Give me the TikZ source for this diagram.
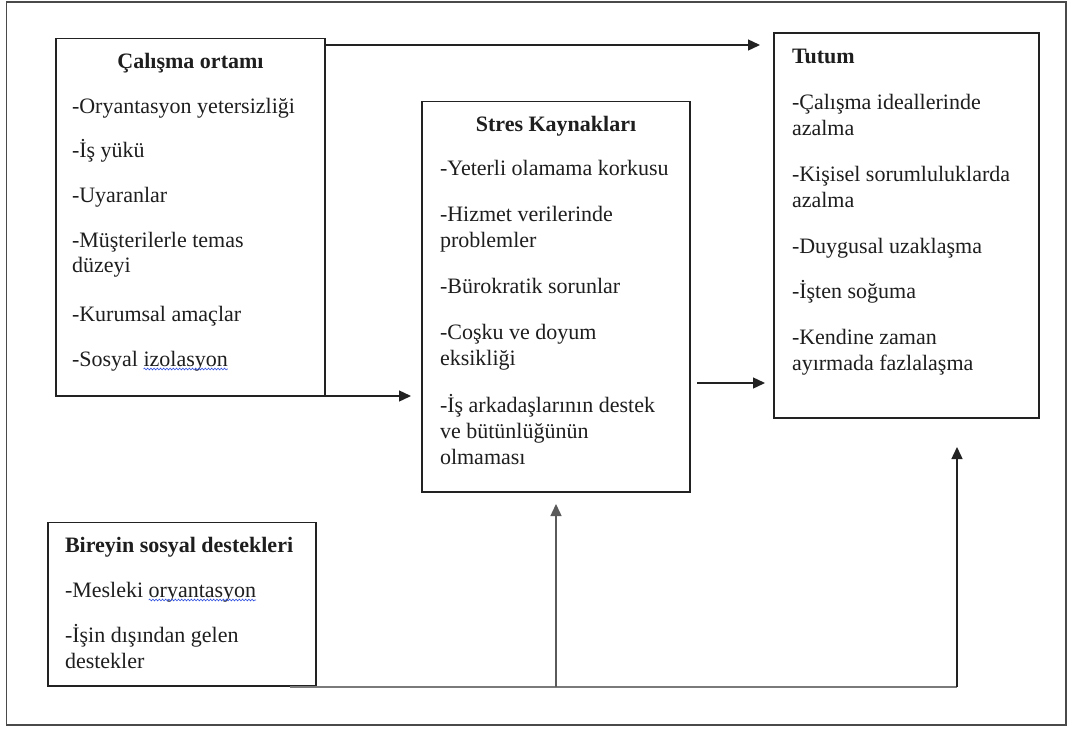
\documentclass[tikz,border=0pt]{standalone}
\usepackage{fontspec}
\setmainfont{Liberation Serif}
\usetikzlibrary{arrows.meta,decorations.pathmorphing,calc}
\definecolor{textc}{HTML}{1E1E1E}
\definecolor{linec}{HTML}{222222}
\definecolor{framec}{HTML}{4A4A4A}
\definecolor{grayline}{HTML}{7A7A7A}
\definecolor{midgray}{HTML}{5A5A5A}
\definecolor{spell}{HTML}{3050E0}
\begin{document}
\begin{tikzpicture}[x=1pt,y=-1pt,
  font=\fontsize{22}{26}\selectfont,
  box/.style={draw=linec,line width=1.6pt,anchor=north west,inner sep=0pt,outer sep=0pt},
  txt/.style={anchor=base west,inner sep=0pt,outer sep=0pt,text=textc},
  ttl/.style={txt,font=\fontsize{22}{26}\selectfont\bfseries},
  arr/.style={draw=linec,line width=1.4pt,-{Triangle[length=12pt,width=11pt]}},
  wavy/.style={draw=spell,line width=0.6pt,decorate,decoration={snake,amplitude=0.9pt,segment length=3.2pt}}
]
\useasboundingbox[fill=white] (0,0) rectangle (1072,729);
\node[draw=framec,line width=1.8pt,anchor=north west,inner sep=0pt,outer sep=0pt,
      minimum width=1059.5pt,minimum height=723pt] (frame) at (6.5,2) {};

% boxes
\node[box,minimum width=269pt,minimum height=357.5pt] (A) at (56,38.5) {};
\node[box,minimum width=268pt,minimum height=390.5pt] (B) at (422,101.5) {};
\node[box,minimum width=265pt,minimum height=385pt] (C) at (774,33) {};
\node[box,minimum width=268pt,minimum height=163.5pt] (D) at (48,522.5) {};

% titles
\node[ttl,anchor=base] (At) at (190.5,68) {Çalışma ortamı};
\node[ttl,anchor=base] (Bt) at (556,131) {Stres Kaynakları};
\node[ttl] (Ct) at (792,63) {Tutum};
\node[ttl] (Dt) at (65,552) {Bireyin sosyal destekleri};

% box A items
\foreach \y/\t [count=\i] in {113/-Oryantasyon yetersizliği,157/-İş yükü,202/-Uyaranlar,
  247/-Müşterilerle temas,272/düzeyi,321/-Kurumsal amaçlar}
  \node[txt] (a\i) at (72,\y) {\t};
\node[txt] (a7) at (72,366) {-Sosyal};
\node[txt] (a7w) at ([xshift=5.5pt]a7.base east) {izolasyon};
\draw[wavy] ([yshift=-3pt]a7w.base west) -- ([yshift=-3pt]a7w.base east);

% box B items
\foreach \y/\t [count=\i] in {175/-Yeterli olamama korkusu,221/-Hizmet verilerinde,247/problemler,
  293/-Bürokratik sorunlar,339/-Coşku ve doyum,365/eksikliği,412/-İş arkadaşlarının destek,
  438/ve bütünlüğünün,464/olmaması}
  \node[txt] (b\i) at (440,\y) {\t};

% box C items
\foreach \y/\t [count=\i] in {109/-Çalışma ideallerinde,135/azalma,181/-Kişisel sorumluluklarda,
  207/azalma,253/-Duygusal uzaklaşma,298/-İşten soğuma,344/-Kendine zaman,370/ayırmada fazlalaşma}
  \node[txt] (c\i) at (792,\y) {\t};

% box D items
\node[txt] (d1) at (65,597) {-Mesleki};
\node[txt] (d1w) at ([xshift=5.5pt]d1.base east) {oryantasyon};
\draw[wavy] ([yshift=-3pt]d1w.base west) -- ([yshift=-3pt]d1w.base east);
\node[txt] (d2) at (65,642) {-İşin dışından gelen};
\node[txt] (d3) at (65,668) {destekler};

% helper coordinates
\coordinate (ytop) at (0,45);
\coordinate (ymid) at (0,383);
\coordinate (ybot) at (0,687);
\coordinate (xr) at (957,0);
\coordinate (xm) at (556,0);

% connectors
\draw[arr] (A.east |- ytop) -- ($(C.west |- ytop)+(-14,0)$);
\draw[arr] ($(A.south east)+(-12,0)$) -- ($(B.west |- A.south)+(-11,0)$);
\draw[arr] ($(B.east |- ymid)+(7,0)$) -- ($(C.west |- ymid)+(-9,0)$);
\draw[draw=grayline,line width=1.4pt] ($(D.south east)+(-26,1)$) -- (xr |- ybot);
\draw[arr] (xr |- ybot) -- ($(xr |- C.south)+(0,29)$);
\draw[arr,draw=midgray] (xm |- ybot) -- ($(xm |- B.south)+(0,12)$);
\end{tikzpicture}
\end{document}
